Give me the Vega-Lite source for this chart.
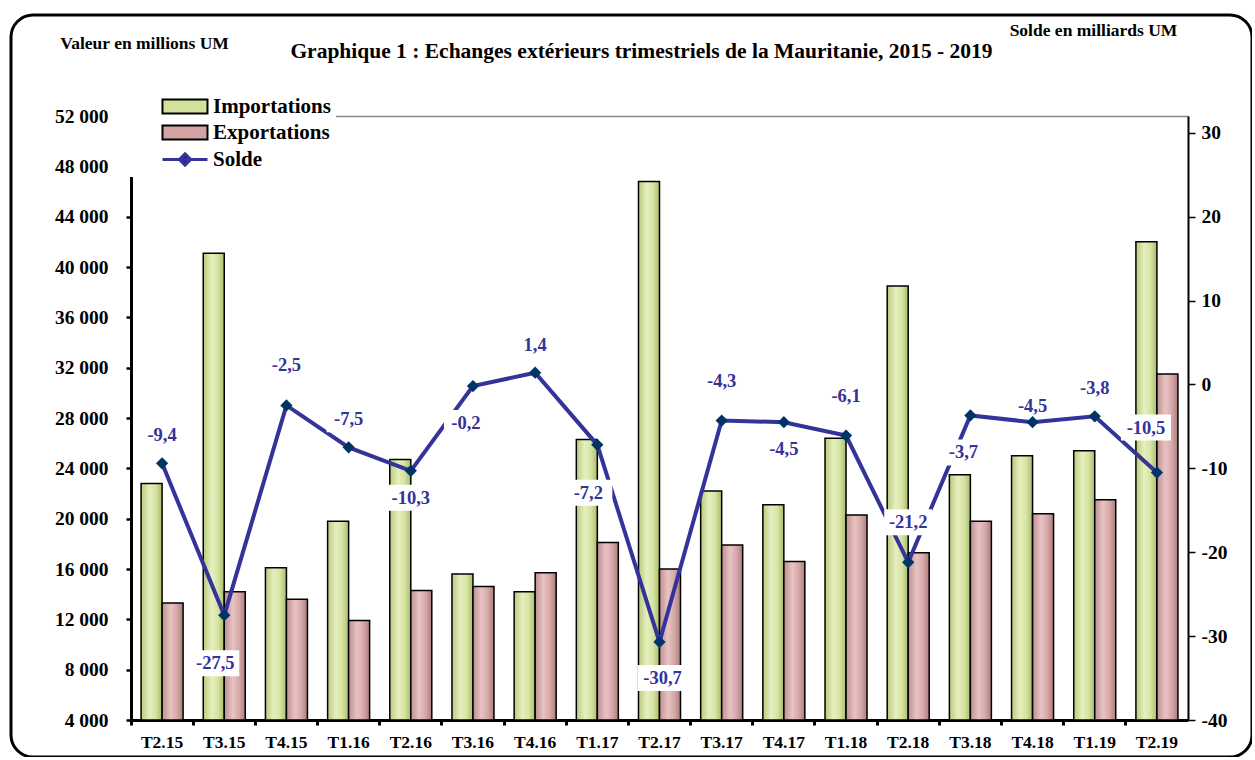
{
  "$schema": "https://vega.github.io/schema/vega-lite/v6.json",
  "width": 1241,
  "height": 742,
  "autosize": {"type": "none"},
  "padding": {"left": 11, "top": 15, "right": 0, "bottom": 0},
  "background": "white",
  "config": {
    "view": {"stroke": "black", "strokeWidth": 3, "cornerRadius": 22},
    "font": "Liberation Serif",
    "axis": {"labelFont": "Liberation Serif", "labelFontWeight": "bold", "labelColor": "black", "titleFont": "Liberation Serif", "titleFontWeight": "bold", "titleColor": "black", "domainColor": "black", "tickColor": "black", "grid": false}
  },
  "title": {"text": "Graphique 1 : Echanges extérieurs trimestriels de la Mauritanie, 2015 - 2019", "font": "Liberation Serif", "fontSize": 21.5, "fontWeight": "bold", "anchor": "middle", "frame": "group", "offset": -47, "dx": 10, "color": "black"},
  "data": {"values": [
    {"q": "T2.15", "Importations": 22800, "Exportations": 13300, "Solde": -9.4},
    {"q": "T3.15", "Importations": 41100, "Exportations": 14200, "Solde": -27.5},
    {"q": "T4.15", "Importations": 16100, "Exportations": 13600, "Solde": -2.5},
    {"q": "T1.16", "Importations": 19800, "Exportations": 11900, "Solde": -7.5},
    {"q": "T2.16", "Importations": 24700, "Exportations": 14300, "Solde": -10.3},
    {"q": "T3.16", "Importations": 15600, "Exportations": 14600, "Solde": -0.2},
    {"q": "T4.16", "Importations": 14200, "Exportations": 15700, "Solde": 1.4},
    {"q": "T1.17", "Importations": 26300, "Exportations": 18100, "Solde": -7.2},
    {"q": "T2.17", "Importations": 46800, "Exportations": 16000, "Solde": -30.7},
    {"q": "T3.17", "Importations": 22200, "Exportations": 17900, "Solde": -4.3},
    {"q": "T4.17", "Importations": 21100, "Exportations": 16600, "Solde": -4.5},
    {"q": "T1.18", "Importations": 26400, "Exportations": 20300, "Solde": -6.1},
    {"q": "T2.18", "Importations": 38500, "Exportations": 17300, "Solde": -21.2},
    {"q": "T3.18", "Importations": 23500, "Exportations": 19800, "Solde": -3.7},
    {"q": "T4.18", "Importations": 25000, "Exportations": 20400, "Solde": -4.5},
    {"q": "T1.19", "Importations": 25400, "Exportations": 21500, "Solde": -3.8},
    {"q": "T2.19", "Importations": 42000, "Exportations": 31500, "Solde": -10.5}
  ]},
  "layer": [
    {
      "transform": [{"fold": ["Importations", "Exportations"], "as": ["key", "value"]}],
      "encoding": {
        "x": {"field": "q", "type": "nominal", "sort": null,
          "scale": {"range": [120, 1177], "paddingInner": 0, "paddingOuter": 0},
          "axis": {"title": null, "orient": "bottom", "offset": -37, "bandPosition": 0, "labelAngle": 0, "labelFontSize": 17.5, "labelPadding": 8, "domainWidth": 3, "tickSize": 5, "tickWidth": 3}},
        "xOffset": {"field": "key", "type": "nominal", "scale": {"domain": ["Importations", "Exportations"], "paddingInner": 0, "paddingOuter": 0.48}},
        "y": {"field": "value", "type": "quantitative",
          "scale": {"domain": [4000, 52000], "range": [705, 101], "nice": false, "zero": false},
          "axis": {"title": "Valeur en millions UM", "titleAngle": 0, "titleX": 13, "titleY": 33, "titleAlign": "center", "titleBaseline": "alphabetic", "titleFontSize": 17.5,
            "offset": -120, "values": [4000, 8000, 12000, 16000, 20000, 24000, 28000, 32000, 36000, 40000, 44000, 48000, 52000],
            "labelExpr": "replace(format(datum.value, ',d'), ',', ' ')", "labelFontSize": 19.5, "labelPadding": 18, "tickSize": 5, "tickWidth": 2.5, "domainWidth": 3,
            "grid": true, "gridColor": "#8a8a8a", "gridWidth": 1.5, "gridOpacity": {"condition": {"test": "datum.value === 52000", "value": 1}, "value": 0}}},
        "y2": {"datum": 4000}
      },
      "layer": [
        {"transform": [{"filter": "datum.key === 'Importations'"}],
          "mark": {"type": "bar", "stroke": "black", "strokeWidth": 1.5,
            "fill": {"gradient": "linear", "x1": 0, "x2": 1, "y1": 0, "y2": 0, "stops": [{"offset": 0, "color": "#b9ca7c"}, {"offset": 0.4, "color": "#e6efbf"}, {"offset": 0.7, "color": "#d6e4a2"}, {"offset": 1, "color": "#a9bb6c"}]}}},
        {"transform": [{"filter": "datum.key === 'Exportations'"}],
          "mark": {"type": "bar", "stroke": "black", "strokeWidth": 1.5,
            "fill": {"gradient": "linear", "x1": 0, "x2": 1, "y1": 0, "y2": 0, "stops": [{"offset": 0, "color": "#bd8f8f"}, {"offset": 0.4, "color": "#e8c3c3"}, {"offset": 0.7, "color": "#d7a9a9"}, {"offset": 1, "color": "#ad7d7d"}]}}}
      ]
    },
    {
      "encoding": {
        "x": {"field": "q", "type": "nominal", "sort": null},
        "y": {"field": "Solde", "type": "quantitative",
          "scale": {"domain": [-40, 32], "range": [705, 101], "nice": false, "zero": false},
          "axis": {"orient": "right", "title": "Solde en milliards UM", "titleAngle": 0, "titleX": -95, "titleY": 20, "titleAlign": "center", "titleBaseline": "alphabetic", "titleFontSize": 17.5,
            "offset": -64, "values": [-40, -30, -20, -10, 0, 10, 20, 30], "labelExpr": "toString(datum.value)", "labelFontSize": 19.5, "labelPadding": 6, "tickSize": 7, "tickWidth": 1.5, "domainWidth": 2, "grid": false}}
      },
      "layer": [
        {"mark": {"type": "line", "strokeWidth": 4, "color": "#333399"},
          "encoding": {"color": {"datum": "Solde", "type": "nominal",
            "scale": {"domain": ["Importations", "Exportations", "Solde"], "range": ["black", "black", "#333399"]},
            "legend": {"orient": "none", "legendX": 114, "legendY": 76, "title": null, "fillColor": "white", "padding": 5,
              "labelFont": "Liberation Serif", "labelFontSize": 21, "labelFontWeight": "bold", "labelColor": "black", "labelOffset": 62,
              "symbolSize": 196, "rowPadding": 3, "symbolStrokeWidth": 2.5,
              "encode": {"symbols": {"enter": {
                "shape": {"signal": "datum.value === 'Solde' ? 'M3.14,0H9.57M6.36,-0.8L7.16,0L6.36,0.8L5.56,0Z' : 'M3.14,-1H9.57V1H3.14Z'"},
                "fill": {"signal": "datum.value === 'Importations' ? '#d2e29a' : datum.value === 'Exportations' ? '#d3a2a2' : '#003366'"},
                "stroke": {"signal": "datum.value === 'Solde' ? '#333399' : 'black'"},
                "strokeWidth": {"signal": "datum.value === 'Solde' ? 3 : 2"}},
                "update": {
                "shape": {"signal": "datum.value === 'Solde' ? 'M3.14,0H9.57M6.36,-0.8L7.16,0L6.36,0.8L5.56,0Z' : 'M3.14,-1H9.57V1H3.14Z'"},
                "fill": {"signal": "datum.value === 'Importations' ? '#d2e29a' : datum.value === 'Exportations' ? '#d3a2a2' : '#003366'"},
                "stroke": {"signal": "datum.value === 'Solde' ? '#333399' : 'black'"},
                "strokeWidth": {"signal": "datum.value === 'Solde' ? 3 : 2"},
                "opacity": {"value": 1}, "fillOpacity": {"value": 1}, "strokeOpacity": {"value": 1}}}}}}}},
        {"mark": {"type": "point", "shape": "diamond", "filled": true, "size": 150, "color": "#003366", "opacity": 1}},

        {"transform": [{"filter": {"field": "q", "oneOf": ["T2.15", "T1.16", "T4.16", "T1.19"]}}],
          "mark": {"type": "point", "filled": true, "color": "white", "opacity": 1, "size": 625, "shape": "M-1.76,-3.28H1.76V-1.2H-1.76Z"}},
        {"transform": [{"filter": {"field": "q", "oneOf": ["T2.15", "T1.16", "T4.16", "T1.19"]}}, {"calculate": "replace(toString(datum.Solde), '.', ',')", "as": "lab"}],
          "mark": {"type": "text", "dx": 0, "dy": -28, "font": "Liberation Serif", "fontSize": 18.5, "fontWeight": "bold", "color": "#333399"},
          "encoding": {"text": {"field": "lab"}}},

        {"transform": [{"filter": {"field": "q", "oneOf": ["T4.15", "T3.17", "T1.18", "T2.18"]}}],
          "mark": {"type": "point", "filled": true, "color": "white", "opacity": 1, "size": 625, "shape": "M-1.92,-4.24H1.92V-2.16H-1.92Z"}},
        {"transform": [{"filter": {"field": "q", "oneOf": ["T4.15", "T3.17", "T1.18", "T2.18"]}}, {"calculate": "replace(toString(datum.Solde), '.', ',')", "as": "lab"}],
          "mark": {"type": "text", "dx": 0, "dy": -40, "font": "Liberation Serif", "fontSize": 18.5, "fontWeight": "bold", "color": "#333399"},
          "encoding": {"text": {"field": "lab"}}},

        {"transform": [{"filter": {"field": "q", "oneOf": ["T4.18"]}}],
          "mark": {"type": "point", "filled": true, "color": "white", "opacity": 1, "size": 625, "shape": "M-1.76,-2.32H1.76V-0.5H-1.76Z"}},
        {"transform": [{"filter": {"field": "q", "oneOf": ["T4.18"]}}, {"calculate": "replace(toString(datum.Solde), '.', ',')", "as": "lab"}],
          "mark": {"type": "text", "dx": 0, "dy": -16, "font": "Liberation Serif", "fontSize": 18.5, "fontWeight": "bold", "color": "#333399"},
          "encoding": {"text": {"field": "lab"}}},

        {"transform": [{"filter": {"field": "q", "oneOf": ["T2.16", "T4.17"]}}],
          "mark": {"type": "point", "filled": true, "color": "white", "opacity": 1, "size": 625, "shape": "M-2.04,1.12H2.04V3.2H-2.04Z"}},
        {"transform": [{"filter": {"field": "q", "oneOf": ["T2.16", "T4.17"]}}, {"calculate": "replace(toString(datum.Solde), '.', ',')", "as": "lab"}],
          "mark": {"type": "text", "dx": 0, "dy": 27, "font": "Liberation Serif", "fontSize": 18.5, "fontWeight": "bold", "color": "#333399"},
          "encoding": {"text": {"field": "lab"}}},

        {"transform": [{"filter": {"field": "q", "oneOf": ["T3.16", "T3.18"]}}],
          "mark": {"type": "point", "filled": true, "color": "white", "opacity": 1, "size": 625, "shape": "M-2.32,1.92H1.2V4.0H-2.32Z"}},
        {"transform": [{"filter": {"field": "q", "oneOf": ["T3.16", "T3.18"]}}, {"calculate": "replace(toString(datum.Solde), '.', ',')", "as": "lab"}],
          "mark": {"type": "text", "dx": -7, "dy": 37, "font": "Liberation Serif", "fontSize": 18.5, "fontWeight": "bold", "color": "#333399"},
          "encoding": {"text": {"field": "lab"}}},

        {"transform": [{"filter": {"field": "q", "oneOf": ["T3.15", "T1.17"]}}],
          "mark": {"type": "point", "filled": true, "color": "white", "opacity": 1, "size": 625, "shape": "M-2.64,2.8H1.2V4.88H-2.64Z"}},
        {"transform": [{"filter": {"field": "q", "oneOf": ["T3.15", "T1.17"]}}, {"calculate": "replace(toString(datum.Solde), '.', ',')", "as": "lab"}],
          "mark": {"type": "text", "dx": -9, "dy": 48, "font": "Liberation Serif", "fontSize": 18.5, "fontWeight": "bold", "color": "#333399"},
          "encoding": {"text": {"field": "lab"}}},

        {"transform": [{"filter": {"field": "q", "oneOf": ["T2.17"]}}],
          "mark": {"type": "point", "filled": true, "color": "white", "opacity": 1, "size": 625, "shape": "M-1.76,1.84H2.24V3.92H-1.76Z"}},
        {"transform": [{"filter": {"field": "q", "oneOf": ["T2.17"]}}, {"calculate": "replace(toString(datum.Solde), '.', ',')", "as": "lab"}],
          "mark": {"type": "text", "dx": 3, "dy": 36, "font": "Liberation Serif", "fontSize": 18.5, "fontWeight": "bold", "color": "#333399"},
          "encoding": {"text": {"field": "lab"}}},

        {"transform": [{"filter": {"field": "q", "oneOf": ["T2.19"]}}],
          "mark": {"type": "point", "filled": true, "color": "white", "opacity": 1, "size": 625, "shape": "M-2.88,-4.64H1.12V-2.56H-2.88Z"}},
        {"transform": [{"filter": {"field": "q", "oneOf": ["T2.19"]}}, {"calculate": "replace(toString(datum.Solde), '.', ',')", "as": "lab"}],
          "mark": {"type": "text", "dx": -11, "dy": -45, "font": "Liberation Serif", "fontSize": 18.5, "fontWeight": "bold", "color": "#333399"},
          "encoding": {"text": {"field": "lab"}}}
      ]
    }
  ],
  "resolve": {"scale": {"y": "independent"}, "axis": {"y": "independent"}}
}
